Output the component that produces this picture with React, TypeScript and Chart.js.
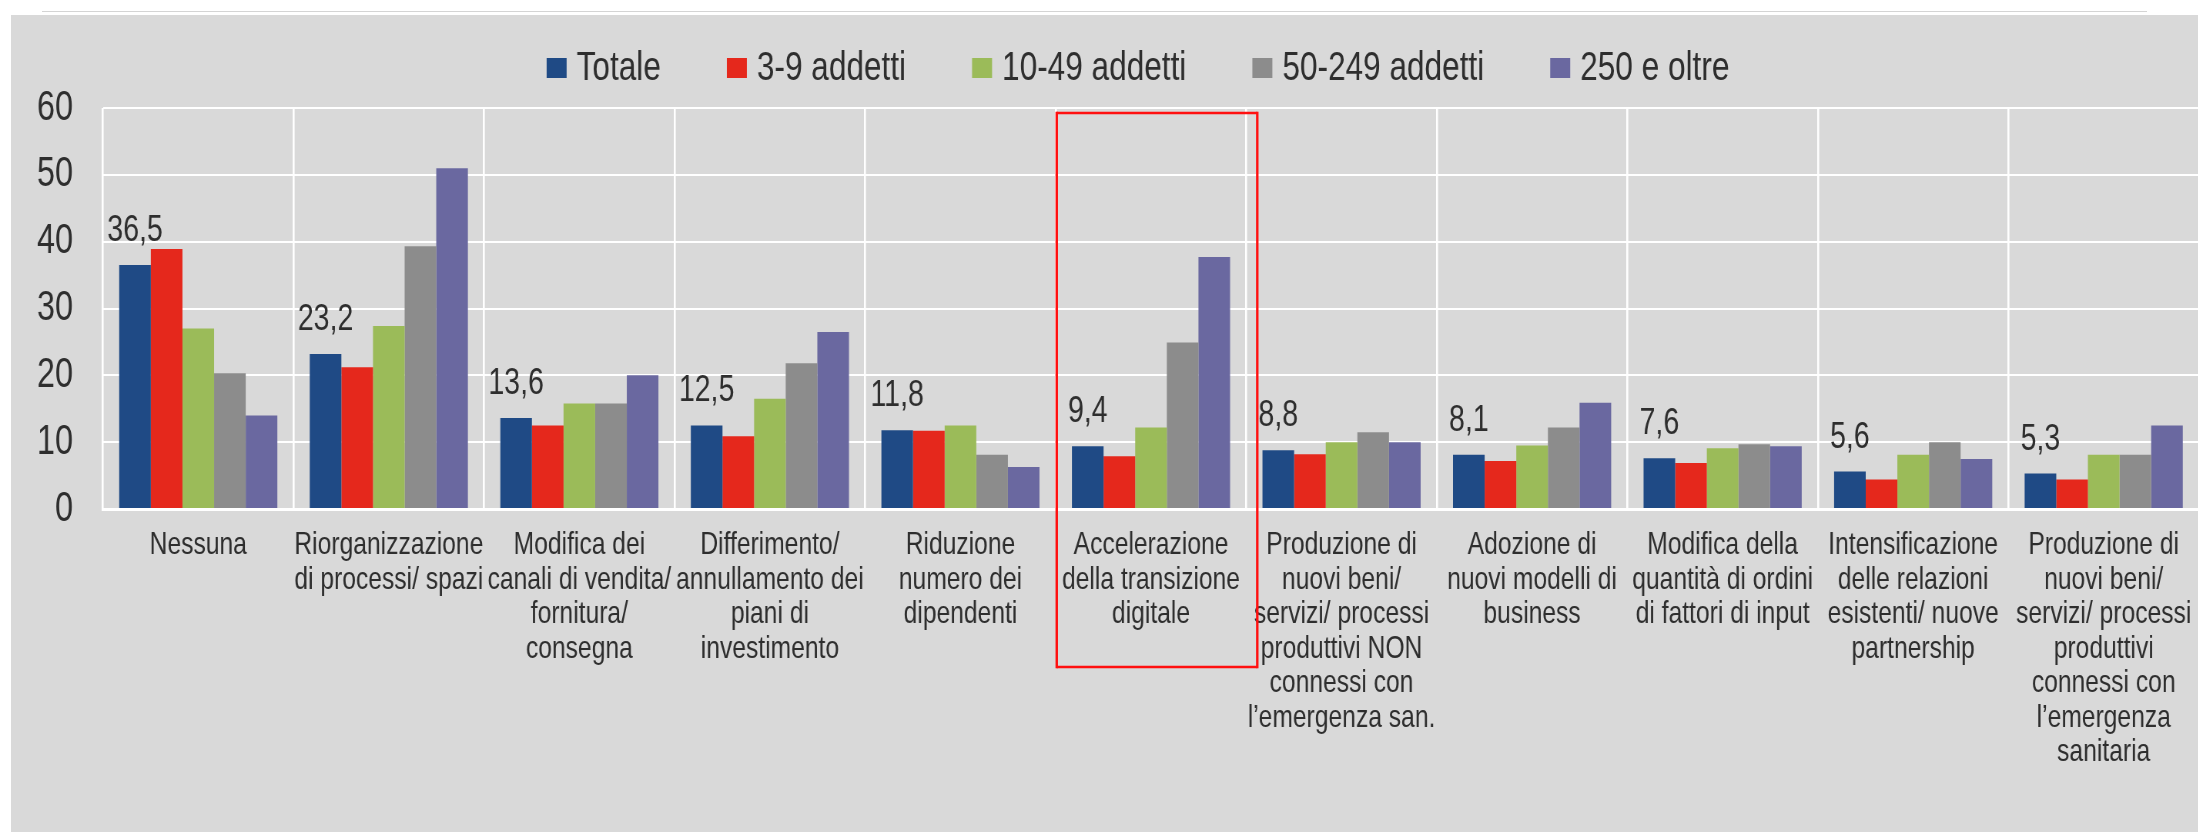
import React, { useEffect, useRef } from "react";
import { Chart, registerables } from "chart.js";

Chart.register(...registerables);

const categories: string[][] = [
  ["Nessuna"],
  ["Riorganizzazione", "di processi/ spazi"],
  ["Modifica dei", "canali di vendita/", "fornitura/", "consegna"],
  ["Differimento/", "annullamento dei", "piani di", "investimento"],
  ["Riduzione", "numero dei", "dipendenti"],
  ["Accelerazione", "della transizione", "digitale"],
  ["Produzione di", "nuovi beni/", "servizi/ processi", "produttivi NON", "connessi con", "l’emergenza san."],
  ["Adozione di", "nuovi modelli di", "business"],
  ["Modifica della", "quantità di ordini", "di fattori di input"],
  ["Intensificazione", "delle relazioni", "esistenti/ nuove", "partnership"],
  ["Produzione di", "nuovi beni/", "servizi/ processi", "produttivi", "connessi con", "l’emergenza", "sanitaria"],
];

const seriesNames = ["Totale", "3-9 addetti", "10-49 addetti", "50-249 addetti", "250 e oltre"];

const totale = [36.5, 23.2, 13.6, 12.5, 11.8, 9.4, 8.8, 8.1, 7.6, 5.6, 5.3];
const addetti3_9 = [38.9, 21.2, 12.5, 10.9, 11.7, 7.9, 8.2, 7.2, 6.9, 4.4, 4.4];
const addetti10_49 = [27.0, 27.4, 15.8, 16.5, 12.5, 12.2, 10.0, 9.5, 9.1, 8.1, 8.1];
const addetti50_249 = [20.3, 39.3, 15.8, 21.8, 8.1, 24.9, 11.5, 12.2, 9.7, 10.0, 8.1];
const oltre250 = [14.0, 51.0, 20.0, 26.5, 6.3, 37.7, 10.0, 15.9, 9.4, 7.5, 12.5];

const yTicks = [0, 10, 20, 30, 40, 50, 60];
const highlightIndex = 5;

const colors = ["#1f4a85", "#e5281c", "#9bbb59", "#8c8c8c", "#6a68a0"];
const FONT = "'Liberation Sans', Arial, sans-serif";
const TEXT = "#2e2e2e";

// horizontal condensing of the whole drawing (text in the original is condensed)
const K = 0.77;
const CANVAS_W = Math.round(2206 / K);
const CANVAS_H = 832;

const fmt = (v: number) => v.toFixed(1).replace(".", ",");

const legendPlugin = {
  id: "customLegend",
  afterDraw(chart: any) {
    const ctx = chart.ctx;
    ctx.save();
    ctx.font = `41px ${FONT}`;
    const box = 20 / K, gap = 10 / K, spacing = 66 / K;
    const items = chart.data.datasets.map((ds: any) => ({
      label: ds.label,
      color: ds.backgroundColor,
      w: ctx.measureText(ds.label).width,
    }));
    const total = items.reduce((s: number, it: any) => s + box + gap + it.w, 0) + spacing * (items.length - 1);
    let x = 1138 / K - total / 2;
    const y = 68;
    ctx.textBaseline = "middle";
    ctx.textAlign = "left";
    items.forEach((it: any) => {
      ctx.fillStyle = it.color;
      ctx.fillRect(x, y - 10, box, 20);
      ctx.fillStyle = TEXT;
      ctx.fillText(it.label, x + box + gap, y + 1);
      x += box + gap + it.w + spacing;
    });
    ctx.restore();
  },
};

const valueLabelPlugin = {
  id: "valueLabels",
  afterDatasetsDraw(chart: any) {
    const ctx = chart.ctx;
    const meta = chart.getDatasetMeta(0);
    const data = chart.data.datasets[0].data;
    ctx.save();
    ctx.font = `37px ${FONT}`;
    ctx.fillStyle = TEXT;
    ctx.textAlign = "center";
    ctx.textBaseline = "alphabetic";
    meta.data.forEach((bar: any, i: number) => {
      ctx.fillText(fmt(data[i]), bar.x, bar.y - 24);
    });
    ctx.restore();
  },
};

const highlightPlugin = {
  id: "highlightBox",
  afterDraw(chart: any) {
    const xs = chart.scales.x;
    const ys = chart.scales.y;
    const w = xs.getPixelForValue(1) - xs.getPixelForValue(0);
    const left = xs.getPixelForValue(highlightIndex) - w / 2 + 1 / K;
    const right = left + w + 10 / K;
    const top = ys.getPixelForValue(60) + 5;
    const bottom = 667;
    const ctx = chart.ctx;
    ctx.save();
    ctx.strokeStyle = "#ff1010";
    ctx.lineWidth = 2.5;
    ctx.beginPath();
    ctx.moveTo(left, top);
    ctx.lineTo(right, top);
    ctx.moveTo(left, bottom);
    ctx.lineTo(right, bottom);
    ctx.stroke();
    ctx.lineWidth = 2.5 / K;
    ctx.beginPath();
    ctx.moveTo(left, top - 1.25);
    ctx.lineTo(left, bottom + 1.25);
    ctx.moveTo(right, top - 1.25);
    ctx.lineTo(right, bottom + 1.25);
    ctx.stroke();
    ctx.restore();
  },
};

export default function App() {
  const ref = useRef<HTMLCanvasElement | null>(null);
  useEffect(() => {
    if (!ref.current) return;
    const series = [totale, addetti3_9, addetti10_49, addetti50_249, oltre250];
    const chart = new Chart(ref.current, {
      type: "bar",
      data: {
        labels: categories,
        datasets: series.map((d, i) => ({
          label: seriesNames[i],
          data: d,
          backgroundColor: colors[i],
          borderWidth: 0,
          categoryPercentage: 0.83,
          barPercentage: 1.0,
        })),
      },
      options: {
        animation: false,
        responsive: false,
        devicePixelRatio: 1,
        layout: { padding: { top: 108, right: 2 / K, left: 0, bottom: 0 } },
        plugins: {
          legend: { display: false },
          tooltip: { enabled: false },
        },
        scales: {
          x: {
            grid: { color: "#ffffff", lineWidth: 2.6, drawTicks: false, offset: true },
            border: { color: "#ffffff", width: 3 },
            ticks: {
              autoSkip: false,
              maxRotation: 0,
              minRotation: 0,
              padding: 19,
              color: TEXT,
              font: { family: FONT, size: 32, lineHeight: 1.08 },
            },
            afterFit: (s: any) => {
              s.height = 832 - 509;
            },
          },
          y: {
            min: 0,
            max: 60,
            afterBuildTicks: (s: any) => {
              s.ticks = yTicks.map((v) => ({ value: v }));
            },
            grid: { color: "#ffffff", lineWidth: 2, drawTicks: false },
            border: { display: false },
            ticks: {
              padding: 30 / K,
              color: TEXT,
              font: { family: FONT, size: 42 },
            },
            afterFit: (s: any) => {
              s.width = 103 / K;
            },
          },
        },
      },
      plugins: [legendPlugin, valueLabelPlugin, highlightPlugin],
    });
    return () => chart.destroy();
  }, []);

  return (
    <div style={{ position: "fixed", left: 0, top: 0, width: 2198, height: 832, overflow: "hidden", background: "#ffffff" }}>
      <div style={{ position: "absolute", left: 42, top: 11, width: 2105, height: 1, background: "#d4d4d4" }} />
      <div style={{ position: "absolute", left: 11, top: 15, right: 0, bottom: 0, background: "#d9d9d9" }} />
      <canvas
        ref={ref}
        width={CANVAS_W}
        height={CANVAS_H}
        style={{
          position: "absolute",
          left: 0,
          top: 0,
          display: "block",
          width: CANVAS_W,
          height: CANVAS_H,
          transform: `scaleX(${K})`,
          transformOrigin: "0 0",
        }}
      />
    </div>
  );
}
